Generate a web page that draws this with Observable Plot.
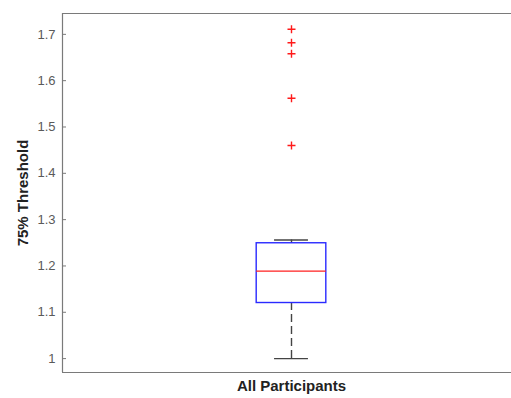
<!DOCTYPE html>
<html>
<head>
<meta charset="utf-8">
<script src="https://cdn.jsdelivr.net/npm/d3@7"></script>
<script src="https://cdn.jsdelivr.net/npm/@observablehq/plot@0.6"></script>
<style>
  html, body { margin: 0; padding: 0; background: #fff; }
  svg { display: block; }
</style>
</head>
<body>
<div id="chart"></div>
<script>
// ---- data ----
const groups = ["All Participants"];
const lowerWhisker = [1.0];
const q1 = [1.12];
const median = [1.189];
const q3 = [1.249];
const upperWhisker = [1.256];
const outliers = [1.711, 1.682, 1.658, 1.562, 1.460];
const yTicks = [1, 1.1, 1.2, 1.3, 1.4, 1.5, 1.6, 1.7];
const yLabel = "75% Threshold";

// ---- build tables ----
const boxHalf = 0.076, capHalf = 0.037;
const boxes = groups.map((g, i) => ({
  g, pos: i + 1,
  lo: lowerWhisker[i], q1: q1[i], med: median[i], q3: q3[i], hi: upperWhisker[i]
}));
const outs = outliers.map(v => ({pos: 1, v}));

const W = 511, H = 398;
const xDom = [0.5, 1.5], yDom = [0.97, 1.745];
const yMid = (yDom[0] + yDom[1]) / 2;

const plot = Plot.plot({
  width: W, height: H,
  marginLeft: 62, marginRight: -9, marginTop: 13, marginBottom: 26,
  style: {fontFamily: "Liberation Sans, Arial, sans-serif", fontSize: "13px", color: "#555", background: "#fff"},
  x: {type: "linear", domain: xDom, axis: null},
  y: {domain: yDom, axis: null},
  marks: [
    // axes box (top, bottom, left)
    Plot.ruleY([yDom[1]], {x1: xDom[0], x2: xDom[1], stroke: "#7a7a7a", strokeWidth: 1.2}),
    Plot.ruleY([yDom[0]], {x1: xDom[0], x2: xDom[1], stroke: "#7a7a7a", strokeWidth: 1.2}),
    Plot.ruleX([xDom[0]], {y1: yDom[0], y2: yDom[1], stroke: "#7a7a7a", strokeWidth: 1.2}),
    // y ticks (inward) and labels
    Plot.axisY(yTicks, {anchor: "left", tickSize: -4, tickPadding: 11, stroke: "#7a7a7a", fill: "#5a5a5a", fontSize: 13,
      tickFormat: d => String(d), label: null}),
    // whiskers (dashed)
    Plot.ruleX(boxes, {x: "pos", y1: "q3", y2: "hi", stroke: "#444", strokeWidth: 1.4, strokeDasharray: "8,4"}),
    Plot.ruleX(boxes, {x: "pos", y1: "lo", y2: "q1", stroke: "#444", strokeWidth: 1.4, strokeDasharray: "8,4"}),
    // caps
    Plot.ruleY(boxes, {y: "hi", x1: d => d.pos - capHalf, x2: d => d.pos + capHalf, stroke: "#444", strokeWidth: 1.4}),
    Plot.ruleY(boxes, {y: "lo", x1: d => d.pos - capHalf, x2: d => d.pos + capHalf, stroke: "#444", strokeWidth: 1.4}),
    // box
    Plot.rect(boxes, {x1: d => d.pos - boxHalf, x2: d => d.pos + boxHalf, y1: "q1", y2: "q3",
      fill: "none", stroke: "#2a2aff", strokeWidth: 1.4}),
    // median
    Plot.ruleY(boxes, {y: "med", x1: d => d.pos - boxHalf, x2: d => d.pos + boxHalf, stroke: "#ff2020", strokeWidth: 1.3}),
    // outliers
    Plot.dot(outs, {x: "pos", y: "v", symbol: "plus", r: 2.7, stroke: "#ff1a1a", strokeWidth: 1.4}),
    // y label
    Plot.text([yLabel], {x: xDom[0], y: yMid, dx: -39, dy: 0, rotate: -90, fontSize: 15, fontWeight: "bold", fill: "#222", letterSpacing: 0.6}),
    // x label
    Plot.text(groups, {x: (d, i) => i + 1, frameAnchor: "bottom", dy: 18, fontSize: 15, fontWeight: "bold", fill: "#222", letterSpacing: 0.6})
  ]
});
document.getElementById("chart").appendChild(plot);
</script>
</body>
</html>
